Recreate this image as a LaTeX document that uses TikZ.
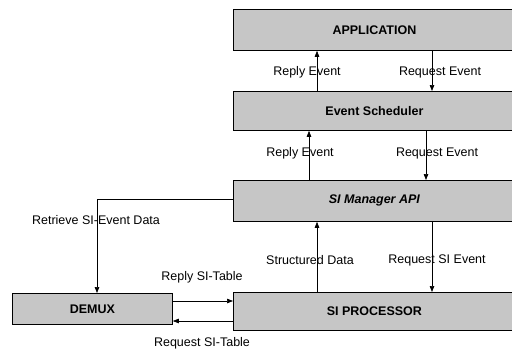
\documentclass[tikz,border=0pt]{standalone}
\usepackage{fontspec}
\setmainfont{Liberation Sans}
\usepackage{tikz}
\usetikzlibrary{positioning, arrows.meta}
\tikzset{
      blk/.style={draw,fill=gray!45,line width=0.8pt,anchor=north west,
        minimum width=292pt,font=\fontsize{12.5}{14}\selectfont\bfseries,inner sep=0pt},
      lbl/.style={font=\fontsize{12.5}{14}\selectfont,inner sep=1pt},
      msg/.style={-{Triangle[length=6pt,width=4.5pt]},line width=0.7pt}
    }
\begin{document}
\begin{tikzpicture}[x=1pt,y=-1pt]
\useasboundingbox (0,0) rectangle (512,354);
% the four layers on the right
\node[blk,minimum height=41pt] (app) at (233,9) {\hspace*{-10pt}APPLICATION};
\node[blk,minimum height=39pt,font=\fontsize{12.5}{14}\selectfont\bfseries] (esch) at (233,91) {\hspace*{-10pt}Event Scheduler};
\node[blk,minimum height=41pt] (mgr) at (233,180) {\hspace*{-10pt}\itshape SI Manager API};
\node[blk,minimum height=38pt] (proc) at (233,292) {\hspace*{-10pt}SI PROCESSOR};
\node[blk,minimum height=31pt,minimum width=160pt] (demux) at (12,293) {DEMUX};
% vertical messages
\draw[msg] ([xshift=84pt]esch.north west) -- ([xshift=84pt]app.south west);
\draw[msg] ([xshift=199pt]app.south west) -- ([xshift=199pt]esch.north west);
\draw[msg] ([xshift=76pt]mgr.north west) -- ([xshift=76pt]esch.south west);
\draw[msg] ([xshift=193pt]esch.south west) -- ([xshift=193pt]mgr.north west);
\draw[msg] ([xshift=84pt]proc.north west) -- ([xshift=84pt]mgr.south west);
\draw[msg] ([xshift=199pt]mgr.south west) -- ([xshift=199pt]proc.north west);
% demux side
\draw[msg] ([yshift=2pt]mgr.west) -| ([xshift=85pt]demux.north west);
\coordinate (rt) at ([yshift=-8pt]demux.north east);
\coordinate (rq) at ([yshift=-28pt]demux.north east);
\draw[msg] (rt) -- (rt -| proc.west);
\draw[msg] (rq -| proc.west) -- (rq);
% labels
\node[lbl] (l1) at (307,72) {Reply Event};
\node[lbl] (l2) at (440,72) {Request Event};
\node[lbl] (l3) at (300,153) {Reply Event};
\node[lbl] (l4) at (437,153) {Request Event};
\node[lbl] (l5) at (310,260) {Structured Data};
\node[lbl] (l6) at (437,260) {Request SI Event};
\node[lbl] (l7) at (96,220) {Retrieve SI-Event Data};
\node[lbl] (l8) at (202,277) {Reply SI-Table};
\node[lbl] (l9) at (202,343) {Request SI-Table};
\end{tikzpicture}
\end{document}
